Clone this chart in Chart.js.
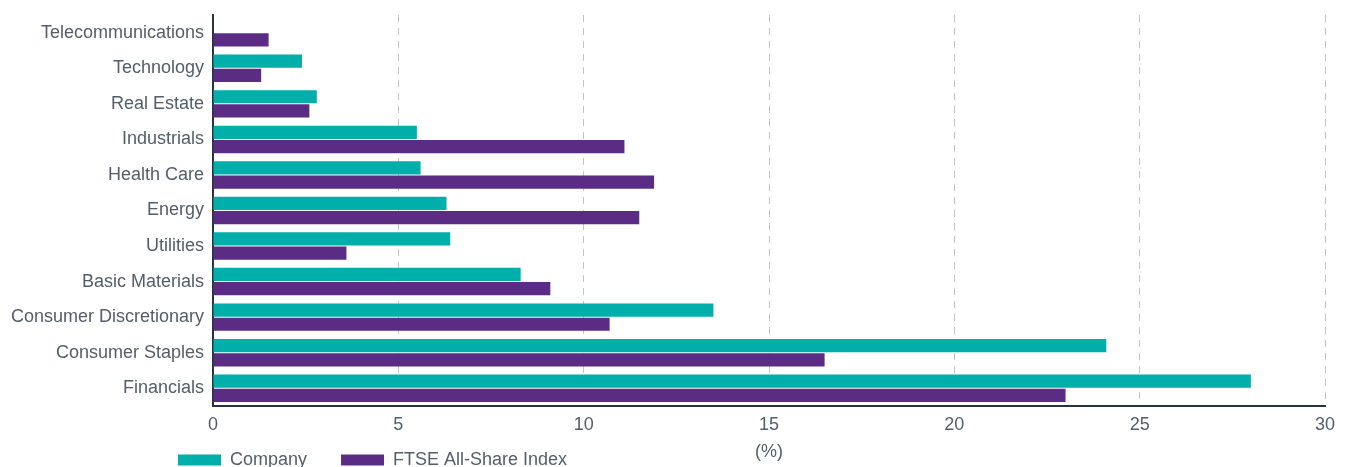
<!DOCTYPE html>
<html>
<head>
<meta charset="utf-8">
<script src="https://cdn.jsdelivr.net/npm/chart.js@4/dist/chart.umd.min.js"></script>
<style>
  html, body { margin: 0; padding: 0; background: #fff; }
  #wrap { width: 1347px; height: 467px; }
</style>
</head>
<body>
<div id="wrap"><canvas id="chart"></canvas></div>
<script>
var sectors = ["Telecommunications", "Technology", "Real Estate", "Industrials", "Health Care",
  "Energy", "Utilities", "Basic Materials", "Consumer Discretionary", "Consumer Staples", "Financials"];
var company = [0, 2.4, 2.8, 5.5, 5.6, 6.3, 6.4, 8.3, 13.5, 24.1, 28.0];
var ftseAllShare = [1.5, 1.3, 2.6, 11.1, 11.9, 11.5, 3.6, 9.1, 10.7, 16.5, 23.0];
var seriesNames = ["Company", "FTSE All-Share Index"];
var xTicks = [0, 5, 10, 15, 20, 25, 30];

Chart.defaults.font.family = "'Liberation Sans', Arial, sans-serif";
Chart.defaults.font.size = 18;
Chart.defaults.color = "#535e69";

// move the legend down to the bottom-left corner, next to the axis title
var legendMover = {
  id: "legendMover",
  beforeDraw: function(chart) {
    var lg = chart.legend;
    lg.left = 144;
    lg.top = 417;
    lg.right = 1347;
    lg.bottom = 467;
    lg.width = lg.right - lg.left;
    lg.height = lg.bottom - lg.top;
  }
};

var ctx = document.getElementById("chart").getContext("2d");
new Chart(ctx, {
  type: "bar",
  data: {
    labels: sectors,
    datasets: [
      { label: seriesNames[0], data: company, backgroundColor: "#00afa9" },
      { label: seriesNames[1], data: ftseAllShare, backgroundColor: "#5a2c83" }
    ]
  },
  options: {
    indexAxis: "y",
    responsive: true,
    maintainAspectRatio: false,
    animation: false,
    categoryPercentage: 0.8,
    barPercentage: 0.93,
    layout: { padding: { top: 15, right: 22, left: 0, bottom: 0 } },
    scales: {
      x: {
        min: xTicks[0],
        max: xTicks[xTicks.length - 1],
        afterBuildTicks: function(scale) {
          scale.ticks = xTicks.map(function(v) { return { value: v }; });
        },
        afterFit: function(scale) { scale.height = 60; },
        border: { display: true, color: "#27343f", width: 2, dash: [7, 6] },
        grid: {
          drawTicks: false,
          color: function(c) { return c.tick && c.tick.value === 0 ? "rgba(0,0,0,0)" : "#c4c4c4"; },
          lineWidth: 1
        },
        ticks: { padding: 8 },
        title: { display: true, text: "(%)", padding: { top: 0, bottom: 3 } }
      },
      y: {
        afterFit: function(scale) {
          scale.width = 213;
          scale.paddingTop = 0;
          scale.paddingBottom = 0;
        },
        border: { display: true, color: "#27343f", width: 2 },
        grid: { display: false, drawTicks: false },
        ticks: { padding: 9 }
      }
    },
    plugins: {
      legend: {
        position: "bottom",
        align: "start",
        maxHeight: 1,
        labels: { boxWidth: 43, boxHeight: 11, padding: 34 }
      },
      tooltip: { enabled: false }
    }
  },
  plugins: [legendMover]
});
</script>
</body>
</html>
